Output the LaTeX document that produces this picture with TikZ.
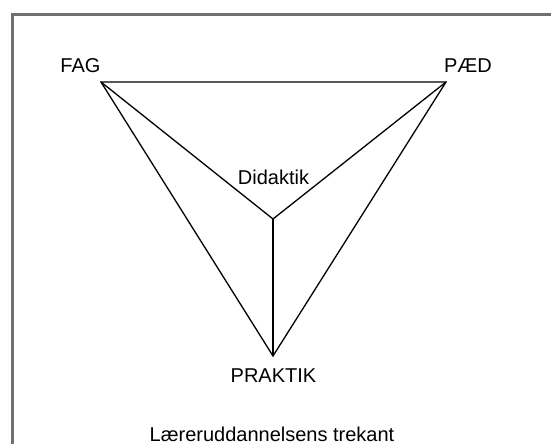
\documentclass[tikz,border=0pt]{standalone}
\usepackage{fontspec}
\setmainfont{Liberation Sans}
\begin{document}
\begin{tikzpicture}[x=1pt,y=-1pt,
  lbl/.style={anchor=base,inner sep=0pt,font=\fontsize{20}{23}\selectfont},
  edge/.style={draw=black,line width=1.3pt},
  frame/.style={draw=black!56,line width=3pt}]
\useasboundingbox (0,0) rectangle (551,444);
\draw[frame] (12.5,444) -- (12.5,14.5) -- (551,14.5);
\coordinate (fag) at (101,82);
\coordinate (paed) at (446,82);
\coordinate (mid) at (273,219);
\coordinate (prak) at (273,356);
\draw[edge,line join=miter] (fag) -- (paed) -- (prak) -- cycle;
\draw[edge] (fag) -- (mid);
\draw[edge] (paed) -- (mid);
\draw[edge] (mid) -- (prak);
\node[lbl] (tfag) at (80.5,72) {FAG};
\node[lbl] (tpaed) at (468,72) {PÆD};
\node[lbl] (tdid) at (273.5,184) {Didaktik};
\node[lbl] (tprak) at (273.5,382.5) {PRAKTIK};
\node[lbl] (ttitle) at (272,441.5) {Læreruddannelsens trekant};
\end{tikzpicture}
\end{document}
